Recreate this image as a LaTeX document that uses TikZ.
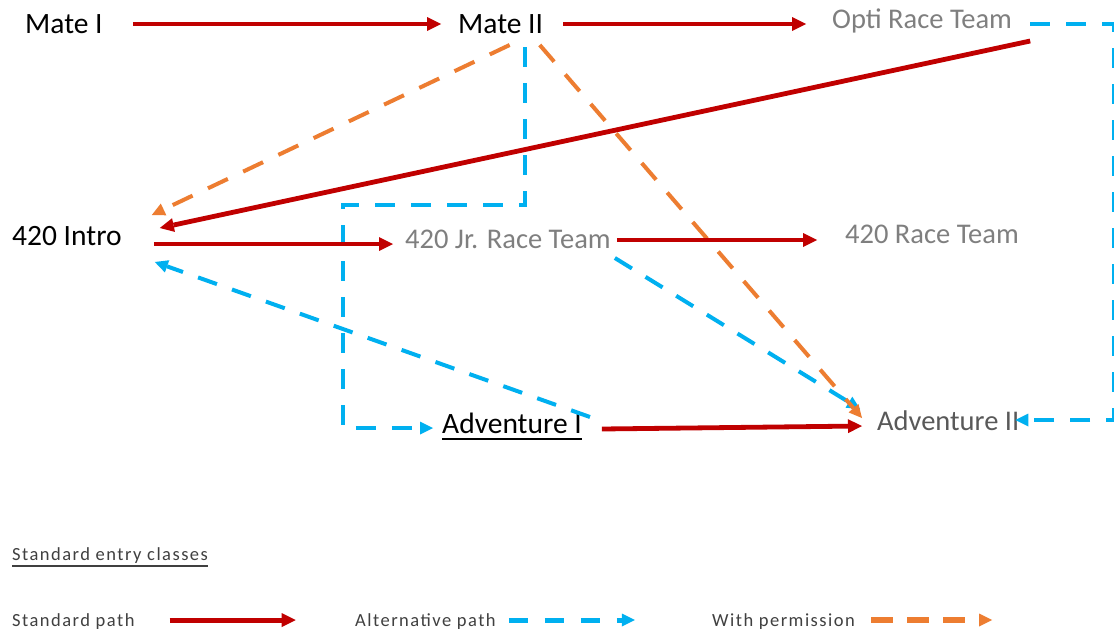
\documentclass[tikz,border=0pt]{standalone}
\usepackage{fontspec}
\setmainfont{Carlito}
\newfontfamily\legendfont[LetterSpace=8]{Carlito}
\usetikzlibrary{arrows.meta}
\definecolor{stdred}{HTML}{C00000}
\definecolor{altblue}{HTML}{00B0F0}
\definecolor{permorange}{HTML}{ED7D31}
\definecolor{txtgrey}{HTML}{7F7F7F}
\definecolor{txtdark}{HTML}{595959}
\definecolor{legendtxt}{HTML}{404040}
\begin{document}
\begin{tikzpicture}[x=1pt,y=-1pt,
  cls/.style={anchor=base west, inner sep=0pt, font=\fontsize{29.5}{32}\selectfont, text=black},
  gcls/.style={anchor=base west, inner sep=0pt, font=\fontsize{28.5}{32}\selectfont, text=txtgrey},
  lgtext/.style={anchor=base west, inner sep=0pt, font=\legendfont\fontsize{18.5}{22}\selectfont, text=legendtxt},
  stdpath/.style={draw=stdred, line width=4.8pt, -{Triangle[length=14pt,width=14pt,line width=0pt]}},
  altpath/.style={draw=altblue, line width=4pt, dash pattern=on 20pt off 16pt, -{Triangle[length=13pt,width=13pt,line width=0pt]}},
  permpath/.style={draw=permorange, line width=4pt, dash pattern=on 22pt off 17pt, -{Triangle[length=13pt,width=13pt,line width=0pt]}},
  ulined/.style={line width=1.8pt},
]
\fill[white] (0,0) rectangle (1114,632);
\useasboundingbox (0,0) rectangle (1114,632);

% class nodes
\node[cls] (mate1) at (25,33) {Mate I};
\node[cls] (mate2) at (458,33) {Mate II};
\node[gcls] (opti) at (832,28) {Opti Race Team};
\node[cls] (intro) at (12,245) {420 Intro};
\node[gcls] (jr) at (405,248) {420 Jr. Race Team};
\node[gcls] (race) at (845,243) {420 Race Team};
\node[cls] (adv1) at (442,433) {Adventure I};
\node[gcls, text=txtdark] (adv2) at (877,430) {Adventure II};
\draw[ulined, black] ([yshift=-6pt]adv1.base west) -- ([yshift=-6pt]adv1.base east);

% alternative paths (blue)
\draw[altpath] ([xshift=-18.5pt,yshift=-14pt]mate2.base east) -- ++(0,158) -- ++(-182,0)
  |- ([xshift=-9pt,yshift=5pt]adv1.base west);
\draw[altpath] ([xshift=4pt,yshift=-10pt]jr.base east) -- ([xshift=-17pt,yshift=21pt]adv2.base west);
\draw[altpath] ([xshift=8pt,yshift=16pt]adv1.base east) -- ([xshift=33pt,yshift=-17pt]intro.base east);
\draw[altpath] ([xshift=18pt,yshift=4pt]opti.base east) -- ++(84,0)
  |- ([xshift=-4pt,yshift=10pt]adv2.base east);

% with permission (orange)
\draw[permpath] ([xshift=9pt,yshift=-12pt]mate2.base) -- ([xshift=30pt,yshift=30pt]intro.base east);
\draw[permpath] ([xshift=-3.5pt,yshift=-12pt]mate2.base east) -- ([xshift=-15pt,yshift=12pt]adv2.base west);

% standard paths (red)
\draw[stdpath] ([xshift=30pt,yshift=9pt]mate1.base east) -- ([xshift=-17pt,yshift=9pt]mate2.base west);
\draw[stdpath] ([xshift=20pt,yshift=9pt]mate2.base east) -- ([xshift=-26pt,yshift=4pt]opti.base west);
\draw[stdpath] ([xshift=18pt,yshift=-13pt]opti.base east) -- ([xshift=38pt,yshift=17pt]intro.base east);
\draw[stdpath] ([xshift=32pt,yshift=1pt]intro.base east) -- ([xshift=-12pt,yshift=4pt]jr.base west);
\draw[stdpath] ([xshift=6pt,yshift=8pt]jr.base east) -- ([xshift=-28pt,yshift=3pt]race.base west);
\draw[stdpath] ([xshift=20pt,yshift=4pt]adv1.base east) -- ([xshift=-15pt,yshift=4pt]adv2.base west);

% legend
\node[lgtext] (lgtitle) at (12,560) {Standard entry classes};
\draw[legendtxt, line width=1.5pt] ([yshift=-6pt]lgtitle.base west) -- ([yshift=-6pt]lgtitle.base east);
\node[lgtext] (lgstd) at (12,626) {Standard path};
\node[lgtext] (lgalt) at (355,626) {Alternative path};
\node[lgtext] (lgperm) at (712,626) {With permission};
\draw[stdpath, line width=5pt] ([xshift=35pt,yshift=6pt]lgstd.base east) -- ++(126,0);
\draw[altpath, line width=5pt, dash pattern=on 19pt off 17pt] ([xshift=13pt,yshift=6pt]lgalt.base east) -- ++(126,0);
\draw[permpath, line width=6pt, dash pattern=on 22pt off 14pt] ([xshift=16pt,yshift=6pt]lgperm.base east) -- ++(121,0);
\end{tikzpicture}
\end{document}
